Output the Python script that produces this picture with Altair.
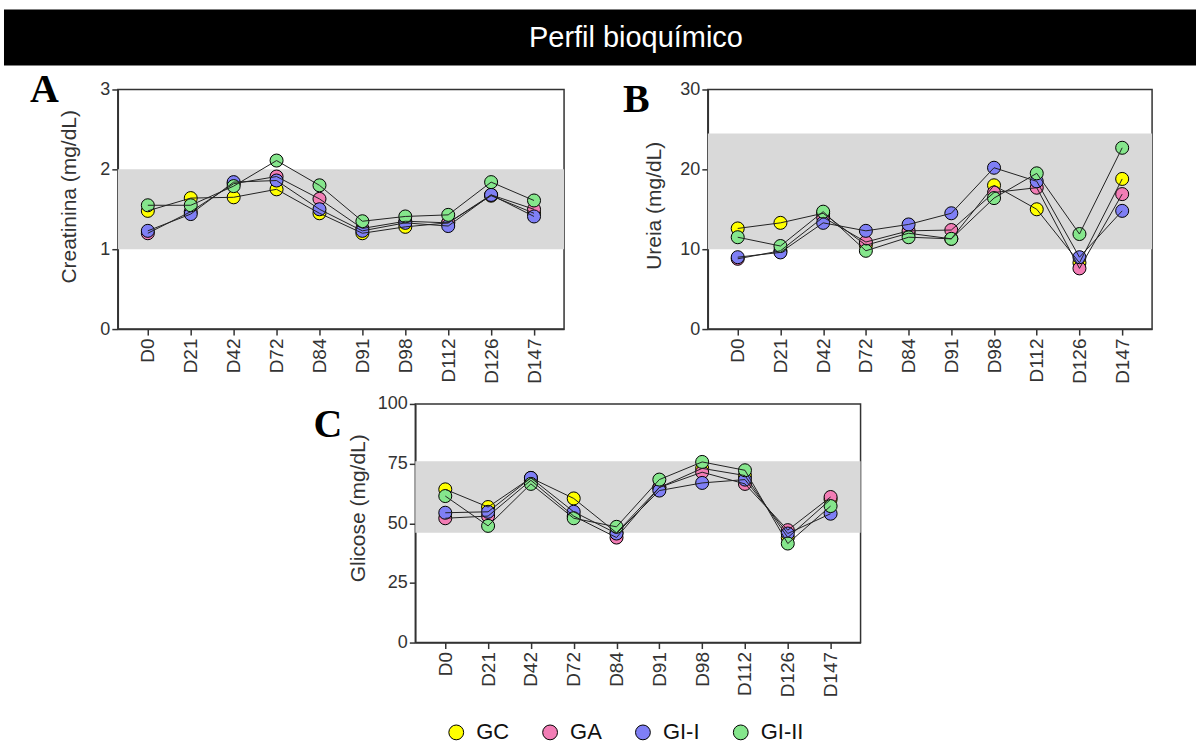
import altair as alt
import pandas as pd

# ---------------- data ----------------
days = ["D0", "D21", "D42", "D72", "D84", "D91", "D98", "D112", "D126", "D147"]
groups = ["GC", "GA", "GI-I", "GI-II"]
group_colors = ["#FFFF00", "#F27DB5", "#7F7FF5", "#85E68C"]

creat_GC = [1.48, 1.64, 1.65, 1.75, 1.45, 1.20, 1.28, 1.33, 1.67, 1.45]
creat_GA = [1.20, 1.47, 1.82, 1.91, 1.63, 1.26, 1.35, 1.33, 1.68, 1.50]
creat_GI1 = [1.23, 1.44, 1.84, 1.86, 1.50, 1.23, 1.33, 1.29, 1.68, 1.41]
creat_GI2 = [1.55, 1.55, 1.79, 2.11, 1.80, 1.35, 1.41, 1.43, 1.84, 1.61]

ureia_GC = [12.6, 13.3, 14.5, 10.5, 12.0, 11.3, 18.0, 15.0, 8.3, 18.8]
ureia_GA = [8.8, 9.8, 14.0, 10.9, 12.3, 12.4, 17.1, 17.7, 7.6, 16.9]
ureia_GI1 = [9.0, 9.6, 13.3, 12.3, 13.1, 14.5, 20.2, 18.5, 9.0, 14.8]
ureia_GI2 = [11.5, 10.4, 14.7, 9.8, 11.5, 11.3, 16.4, 19.5, 11.9, 22.7]

glic_GC = [64.2, 56.8, 69.0, 60.4, 46.0, 65.0, 73.0, 70.0, 44.0, 60.0]
glic_GA = [52.1, 53.0, 68.0, 53.0, 44.0, 65.0, 71.4, 66.5, 47.1, 61.0]
glic_GI1 = [54.4, 54.8, 69.0, 54.8, 45.7, 63.7, 66.9, 68.3, 45.7, 54.0]
glic_GI2 = [61.4, 48.9, 66.5, 52.1, 48.5, 68.3, 75.7, 72.2, 41.5, 57.2]

creat_band = [1.0, 2.0]
ureia_band = [10.0, 24.5]
glic_band = [46.0, 76.0]

creat_ticks = [0, 1, 2, 3]
ureia_ticks = [0, 10, 20, 30]
glic_ticks = [0, 25, 50, 75, 100]

title_text = "Perfil bioquímico"

FONT = "Liberation Sans"
SERIF = "Liberation Serif"


def make_df(series):
    rows = []
    for g, vals in zip(groups, series):
        for i, (d, v) in enumerate(zip(days, vals)):
            rows.append({"day": d, "idx": i, "group": g, "value": v})
    return pd.DataFrame(rows)


legend = alt.Legend(
    orient="none", legendX=442, legendY=713, direction="horizontal", title=None,
    labelFontSize=22, labelFont=FONT, labelColor="#111", symbolSize=220, symbolType="circle",
    symbolStrokeColor="black", symbolStrokeWidth=1, symbolOpacity=1,
    columnPadding=30, labelOffset=9, padding=0,
)


def panel(series, band, ymax, ticks, ytitle, letter, lx, ly, w, h, tpad, ty):
    df = make_df(series)
    yscale = alt.Scale(domain=[0, ymax], nice=False, zero=True)
    yaxis = alt.Axis(values=ticks, format="d", title=ytitle, titlePadding=tpad, titleY=ty,
                     tickSize=6, labelPadding=2, labelFontSize=18)
    x = alt.X("day:N", sort=days, scale=alt.Scale(type="point", padding=0.7),
              axis=alt.Axis(title=None, labelAngle=-90, labelFontSize=19, tickSize=6, labelPadding=3))
    band_df = pd.DataFrame({"lo": [band[0]], "hi": [band[1]]})
    band_layer = alt.Chart(band_df).mark_rect(color="#D9D9D9").encode(
        x=alt.value(0), x2=alt.value(w),
        y=alt.Y("lo:Q", scale=yscale, axis=yaxis), y2="hi:Q")
    pts = alt.Chart(df).mark_circle(size=170, stroke="black", strokeWidth=1, opacity=1).encode(
        x=x,
        y=alt.Y("value:Q", scale=yscale, axis=yaxis),
        color=alt.Color("group:N", scale=alt.Scale(domain=groups, range=group_colors),
                        sort=groups, legend=legend),
    )
    lines = alt.Chart(df).mark_line(color="#222", strokeWidth=1).encode(
        x=alt.X("day:N", sort=days), y="value:Q", detail="group:N", order="idx:Q")
    let_df = pd.DataFrame({"t": [letter]})
    let_layer = alt.Chart(let_df).mark_text(
        font=SERIF, fontWeight="bold", fontSize=40, align="left", baseline="alphabetic",
        color="black").encode(x=alt.value(lx), y=alt.value(ly), text="t:N")
    return alt.layer(band_layer, pts, lines, let_layer).properties(width=w, height=h)


def spacer(w, top=0):
    return alt.Chart(pd.DataFrame({"a": [0]})).mark_rect(opacity=0).encode(
        x=alt.value(0), x2=alt.value(w), y=alt.value(-top), y2=alt.value(1)
    ).properties(width=w, height=1, view=alt.ViewBackground(stroke="transparent"))


panel_a = panel([creat_GC, creat_GA, creat_GI1, creat_GI2], creat_band, 3, creat_ticks,
                "Creatinina (mg/dL)", "A", -88, 13, 447, 240, 20, 107)
panel_b = panel([ureia_GC, ureia_GA, ureia_GI1, ureia_GI2], ureia_band, 30, ureia_ticks,
                "Ureia (mg/dL)", "B", -85, 23, 445, 240, 15, 116)
panel_c = panel([glic_GC, glic_GA, glic_GI1, glic_GI2], glic_band, 100, glic_ticks,
                "Glicose (mg/dL)", "C", -102, 33, 446, 239, 9, 104)

tdf = pd.DataFrame({"t": [title_text]})
title_bar = alt.layer(
    alt.Chart(tdf).mark_rect(color="black").encode(
        x=alt.value(0), x2=alt.value(1194), y=alt.value(0), y2=alt.value(56)),
    alt.Chart(tdf).mark_text(color="white", font=FONT, fontSize=29, align="center",
                             baseline="middle").encode(
        x=alt.value(633), y=alt.value(28), text="t:N"),
).properties(width=1194, height=56, view=alt.ViewBackground(stroke="transparent"))

row2 = alt.hconcat(spacer(24), panel_a, spacer(55), panel_b, spacing=0).resolve_scale(color="shared")
row3 = alt.hconcat(spacer(308, 15), panel_c, spacing=0).resolve_scale(color="shared")

chart = alt.vconcat(title_bar, row2, row3, spacing=3).resolve_scale(color="shared").properties(
    padding={"left": 3, "top": 8, "right": 3, "bottom": 4}, background="white"
).configure_view(stroke="#333", strokeWidth=1.5).configure_axis(
    domainColor="#333", domainWidth=1.5, tickColor="#333", tickWidth=1.5,
    labelColor="#333", labelFont=FONT, titleFont=FONT, titleFontSize=21,
    titleFontWeight="normal", titleColor="#333", grid=False,
)

chart.save("out.html", embed_options={"renderer": "svg", "actions": False})
